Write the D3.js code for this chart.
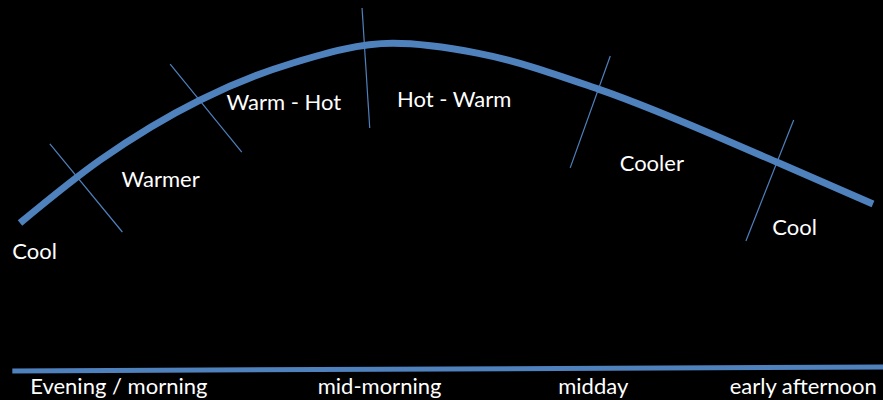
<!DOCTYPE html>
<html>
<head>
<meta charset="utf-8">
<script src="https://cdn.jsdelivr.net/npm/d3@7"></script>
<style>
  html, body { margin: 0; padding: 0; background: #000; }
  svg { display: block; }
  .zone { fill: #fff; font-family: Lato, "Open Sans", sans-serif; font-size: 22px; }
  .period { fill: #fff; font-family: Lato, "Open Sans", sans-serif; font-size: 22px; }
</style>
</head>
<body>
<svg id="chart" width="883" height="400"></svg>
<script>
// time runs 0..100 across the day, warmth 0..100 (peak)
var curveTime   = [0, 9.4, 21.1, 32.0, 43.7, 53.6, 67.8, 88.7, 100];
var curveWarmth = [0, 35.0, 68.3, 88.9, 99.8, 94.4, 74.4, 33.9, 10.6];

// zone boundary markers: [time1, warmth1, time2, warmth2]
var boundaries = [
    [3.5, 43.9, 12.0, -5.0],
    [17.6, 88.3, 26.0, 39.4],
    [40.1, 119.4, 41.0, 52.8],
    [69.2, 92.8, 64.5, 30.6],
    [90.7, 57.2, 85.1, -10.0]
];

var zoneNames   = ["Cool", "Warmer", "Warm - Hot", "Hot - Warm", "Cooler", "Cool"];
var zoneTime    = [-0.9, 11.9, 24.2, 44.2, 70.3, 88.2];
var zoneWarmth  = [-20, 20, 62.8, 64.4, 28.9, -6.7];

var periodNames = ["Evening / morning", "mid-morning", "midday", "early afternoon"];
var periodTime  = [1.2, 34.9, 63.1, 83.2];
var baselineTime   = [-0.9, 101.2];
var baselineWarmth = [-82.2, -80.0];
var periodWarmth = -95;

var blue = "#4f81bd";

var svg = d3.select("#chart");

var x = d3.scaleLinear().domain([0, 100]).range([20, 873]);
var y = d3.scaleLinear().domain([0, 100]).range([223, 43]);

//curva principal
var line = d3.line()
    .x(function (d) { return x(d[0]); })
    .y(function (d) { return y(d[1]); })
    .curve(d3.curveMonotoneX);

svg.append("path")
    .datum(d3.zip(curveTime, curveWarmth))
    .attr("d", line)
    .attr("fill", "none")
    .attr("stroke", blue)
    .attr("stroke-width", 7);

svg.selectAll("line.boundary").data(boundaries)
    .enter().append("line").attr("class", "boundary")
    .attr("x1", function (d) { return x(d[0]); })
    .attr("y1", function (d) { return y(d[1]); })
    .attr("x2", function (d) { return x(d[2]); })
    .attr("y2", function (d) { return y(d[3]); })
    .attr("stroke", blue)
    .attr("stroke-width", 1.2);

svg.selectAll("text.zone").data(zoneNames)
    .enter().append("text").attr("class", "zone")
    .attr("x", function (d, i) { return x(zoneTime[i]); })
    .attr("y", function (d, i) { return y(zoneWarmth[i]); })
    .text(function (d) { return d; });

//eixo de baixo
svg.append("line")
    .attr("x1", x(baselineTime[0])).attr("y1", y(baselineWarmth[0]))
    .attr("x2", x(baselineTime[1])).attr("y2", y(baselineWarmth[1]))
    .attr("stroke", blue)
    .attr("stroke-width", 5);

svg.selectAll("text.period").data(periodNames)
    .enter().append("text").attr("class", "period")
    .attr("x", function (d, i) { return x(periodTime[i]); })
    .attr("y", y(periodWarmth))
    .text(function (d) { return d; });
</script>
</body>
</html>
